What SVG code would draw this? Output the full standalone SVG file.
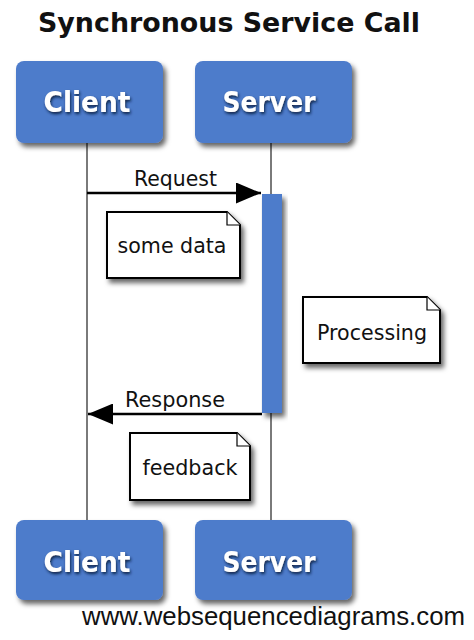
<svg xmlns="http://www.w3.org/2000/svg" width="474" height="640" viewBox="0 0 474 640">
  <defs>
    <filter id="boxShadow" x="-20%" y="-20%" width="150%" height="150%">
      <feGaussianBlur in="SourceAlpha" stdDeviation="2.5"/>
      <feOffset dx="3" dy="4" result="b"/>
      <feFlood flood-color="#000" flood-opacity="0.6"/>
      <feComposite in2="b" operator="in"/>
      <feMerge><feMergeNode/><feMergeNode in="SourceGraphic"/></feMerge>
    </filter>
    <filter id="textShadow" x="-20%" y="-30%" width="140%" height="160%">
      <feGaussianBlur in="SourceAlpha" stdDeviation="1.5"/>
      <feOffset dx="1" dy="2" result="b"/>
      <feFlood flood-color="#0a1a3a" flood-opacity="0.9"/>
      <feComposite in2="b" operator="in"/>
      <feMerge><feMergeNode/><feMergeNode in="SourceGraphic"/></feMerge>
    </filter>
    <marker id="arrow" viewBox="0 0 25 21" refX="25" refY="10.5" markerWidth="25" markerHeight="21" markerUnits="userSpaceOnUse" orient="auto">
      <path d="M0,0 L25,10.5 L0,21 Z" fill="#000"/>
    </marker>
  </defs>
  <style>
    .actor rect { fill: #4d7bcb; filter: url(#boxShadow); }
    .actor text { font-family: "DejaVu Sans", Verdana, sans-serif; font-weight: bold; font-size: 29px; fill: #fff; text-anchor: middle; filter: url(#textShadow); }
    .lifeline { stroke: #7a7a7a; stroke-width: 2; fill: none; }
    .msg { stroke: #000; stroke-width: 2.5; fill: none; marker-end: url(#arrow); }
    .label { font-family: "DejaVu Sans", Tahoma, sans-serif; font-size: 21px; fill: #111; }
    .note path.body { fill: #fff; stroke: #000; stroke-width: 2; filter: url(#boxShadow); }
    .note path.fold { fill: #fff; stroke: #000; stroke-width: 1.2; }
    .note text { font-family: "DejaVu Sans", Tahoma, sans-serif; font-size: 21px; fill: #111; text-anchor: middle; }
  </style>

  <rect width="474" height="640" fill="#fff"/>

  <text x="229" y="32" font-family="DejaVu Sans, Verdana, sans-serif" font-weight="bold" font-size="26" fill="#111" text-anchor="middle" textLength="382" lengthAdjust="spacingAndGlyphs">Synchronous Service Call</text>

  <!-- lifelines and messages -->
  <g id="connectors">
    <line class="lifeline" x1="87" y1="143" x2="87" y2="520"/>
    <line class="lifeline" x1="271" y1="143" x2="271" y2="520"/>
    <line class="msg" x1="87" y1="193" x2="261" y2="193"/>
    <text class="label" x="134" y="186" textLength="83" lengthAdjust="spacingAndGlyphs">Request</text>
    <line class="msg" x1="262" y1="414" x2="88" y2="414"/>
    <text class="label" x="125" y="407" textLength="100" lengthAdjust="spacingAndGlyphs">Response</text>
  </g>

  <!-- activation bar on the server lifeline -->
  <g id="activation">
    <rect x="262" y="194" width="20" height="219" fill="#4d7bcb" filter="url(#boxShadow)"/>
  </g>

  <g id="client-top" class="actor">
    <rect x="16" y="61" width="147" height="82" rx="8"/>
    <text x="87" y="112" textLength="87" lengthAdjust="spacingAndGlyphs">Client</text>
  </g>
  <g id="server-top" class="actor">
    <rect x="195" y="61" width="157" height="82" rx="8"/>
    <text x="269" y="112" textLength="93" lengthAdjust="spacingAndGlyphs">Server</text>
  </g>
  <g id="client-bottom" class="actor">
    <rect x="16" y="520" width="147" height="80" rx="8"/>
    <text x="87" y="572" textLength="87" lengthAdjust="spacingAndGlyphs">Client</text>
  </g>
  <g id="server-bottom" class="actor">
    <rect x="195" y="520" width="157" height="80" rx="8"/>
    <text x="269" y="572" textLength="93" lengthAdjust="spacingAndGlyphs">Server</text>
  </g>

  <g id="note-some-data" class="note">
    <path class="body" d="M107,212 L227,212 L240,225 L240,278 L107,278 Z"/>
    <path class="fold" d="M227,212 L227,225 L240,225"/>
    <text x="172" y="253" textLength="109" lengthAdjust="spacingAndGlyphs">some data</text>
  </g>

  <g id="note-processing" class="note">
    <path class="body" d="M303,297 L427,297 L440,310 L440,363 L303,363 Z"/>
    <path class="fold" d="M427,297 L427,310 L440,310"/>
    <text x="372" y="340" textLength="110" lengthAdjust="spacingAndGlyphs">Processing</text>
  </g>

  <g id="note-feedback" class="note">
    <path class="body" d="M130,433 L237,433 L250,446 L250,500 L130,500 Z"/>
    <path class="fold" d="M237,433 L237,446 L250,446"/>
    <text x="190" y="475" textLength="95" lengthAdjust="spacingAndGlyphs">feedback</text>
  </g>

  <text x="82" y="625" font-family="Liberation Sans, Arial, sans-serif" font-size="25.5" fill="#111" textLength="383" lengthAdjust="spacingAndGlyphs">www.websequencediagrams.com</text>
</svg>
